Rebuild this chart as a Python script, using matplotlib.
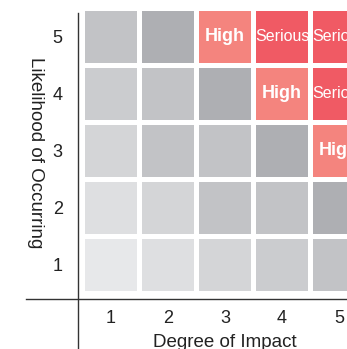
import matplotlib
matplotlib.use("Agg")
import matplotlib.pyplot as plt
from matplotlib.transforms import blended_transform_factory

plt.rcParams['font.family'] = ['Liberation Sans', 'DejaVu Sans']

# risk matrix: rows = likelihood 1..5 (bottom to top), cols = impact 1..5
impact = [1, 2, 3, 4, 5]
likelihood = [1, 2, 3, 4, 5]
cell_levels = [
    [0, 1, 2, 3, 4],
    [1, 2, 4, 4, 5],
    [2, 4, 4, 5, 6],
    [3, 4, 5, 6, 7],
    [4, 5, 6, 7, 7],
]
level_colors = ['#e7e8ea', '#dedfe1', '#d4d5d7', '#cbcccf',
                '#c2c3c6', '#aeafb3', '#f4847e', '#f05a64']
level_labels = ['', '', '', '', '', '', 'High', 'Serious']

x_label = 'Degree of Impact'
y_label = 'Likelihood of Occurring'

fig = plt.figure(figsize=(3.47, 3.49), dpi=100)
ax = fig.add_axes([78 / 347, 50 / 349, 269 / 347, 286 / 349])
ax.set_xlim(0.421, 5.140)
ax.set_ylim(0.4035, 5.421)

size = 0.912
for lik, row in zip(likelihood, cell_levels):
    colors = [level_colors[lv] for lv in row]
    bars = ax.bar(impact, size, bottom=lik - size / 2, width=size,
                  color=colors, linewidth=0)
    for b in bars:
        b.set_clip_on(False)
    for imp, lv in zip(impact, row):
        label = level_labels[lv]
        if label == 'Serious':
            ax.text(imp, lik, label, color='white', fontsize=11.5,
                    ha='center', va='center', fontstretch='condensed')
        elif label:
            ax.text(imp, lik, label, color='white', fontsize=13,
                    fontweight='bold', ha='center', va='center')

for s in ax.spines.values():
    s.set_visible(False)

# axis lines cross and run past each other
ax.plot([0, 0], [-50 / 286, 1], transform=ax.transAxes, clip_on=False,
        color='#333333', lw=1.0)
ax.plot([-52 / 269, 1], [0, 0], transform=ax.transAxes, clip_on=False,
        color='#333333', lw=1.0)

ax.set_xticks(impact)
ax.set_yticks(likelihood)
ax.tick_params(axis='both', length=0, labelsize=13, colors='#222222')
ax.tick_params(axis='x', pad=8)
ax.tick_params(axis='y', pad=11)

trans = blended_transform_factory(ax.transData, ax.transAxes)
ax.text(3, -0.153, x_label, transform=trans, ha='center', va='center',
        fontsize=13.5, color='#222222')
ax.set_ylabel(y_label, rotation=-90, fontsize=13.5, color='#222222',
              va='center', ha='center')
ax.yaxis.set_label_coords(-43 / 269, 0.51)

fig.savefig('out.png', dpi=100)
